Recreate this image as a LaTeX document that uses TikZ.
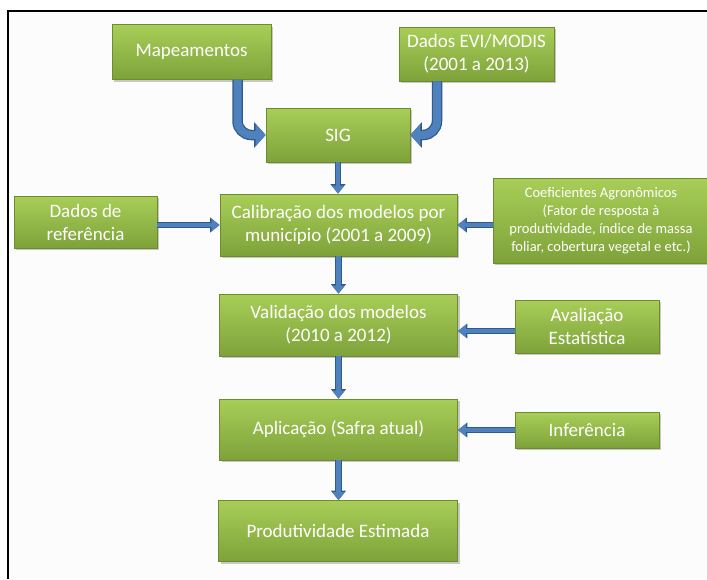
\documentclass[tikz,border=0pt]{standalone}
\usepackage{fontspec}
\setmainfont{Carlito}
\usetikzlibrary{arrows.meta,shadows}
\definecolor{gtop}{HTML}{A8CE58}
\definecolor{gbot}{HTML}{7EA23A}
\definecolor{boxedge}{HTML}{6C8C2E}
\definecolor{arrblue}{HTML}{4F81BD}
\definecolor{arrdark}{HTML}{2F5A8E}
\definecolor{bg}{HTML}{FCFCFC}
\tikzset{
  box/.style={draw=boxedge, line width=0.8pt, top color=gtop, bottom color=gbot,
    text=white, align=center, inner sep=2pt, font=\fontsize{19}{23}\selectfont,
    drop shadow={shadow xshift=2pt, shadow yshift=-2pt, opacity=0.35, fill=black!60}},
  thinarr/.style={arrblue, line width=4.5pt, -{Triangle[width=12pt,length=8pt]},
    preaction={draw=arrdark, line width=6.5pt, -{Triangle[width=14.5pt,length=9.5pt]}}},
  fatarr/.style={arrblue, line width=8pt, rounded corners=14pt, -{Triangle[width=22pt,length=10pt]},
    preaction={draw=arrdark, line width=10.5pt, -{Triangle[width=25pt,length=11.5pt]}}}
}
\begin{document}
\begin{tikzpicture}[x=1pt,y=-1pt]
\useasboundingbox (0,0) rectangle (707,579);
\fill[bg] (8,10.5) rectangle (707,579);

\node[box, minimum width=159pt, minimum height=55pt] (map) at (191.5,52) {Mapeamentos};
\node[box, minimum width=155pt, minimum height=54pt] (evi) at (476.5,54) {Dados EVI/MODIS\\(2001 a 2013)};
\node[box, minimum width=144pt, minimum height=54pt] (sig) at (338,135) {SIG};
\node[box, minimum width=237pt, minimum height=62pt] (cal) at (338.5,225) {Calibração dos modelos por\\município (2001 a 2009)};
\node[box, minimum width=143pt, minimum height=52pt] (ref) at (85.5,222) {Dados de\\referência};
\node[box, minimum width=216pt, minimum height=85pt, font=\fontsize{14.5}{18}\selectfont] (coef) at (601,220.5) {Coeficientes Agronômicos\\(Fator de resposta à\\produtividade, índice de massa\\foliar, cobertura vegetal e etc.)};
\node[box, minimum width=238pt, minimum height=62pt] (val) at (338.5,325) {Validação dos modelos\\(2010 a 2012)};
\node[box, minimum width=144pt, minimum height=53pt] (aval) at (587,326.5) {Avaliação\\Estatística};
\node[box, minimum width=238pt, minimum height=61pt] (apl) at (338.5,429.5) {Aplicação (Safra atual)};
\node[box, minimum width=144pt, minimum height=36pt] (inf) at (587,430) {Inferência};
\node[box, minimum width=239pt, minimum height=61pt] (prod) at (338,531) {Produtividade Estimada};

\coordinate (m0) at ([xshift=46pt]map.south);
\coordinate (e0) at ([xshift=-39.5pt]evi.south);
\draw[fatarr] (m0) |- (sig.west);
\draw[fatarr] (e0) |- (sig.east);

\draw[thinarr] (sig.south) -- (sig.south |- cal.north);
\draw[thinarr] (ref.east |- cal.west) -- (cal.west);
\draw[thinarr] (coef.west |- cal.east) -- (cal.east);
\draw[thinarr] (cal.south) -- (val.north);
\coordinate (a1) at ([yshift=-4.5pt]aval.west);
\draw[thinarr] (a1) -- (a1 -| val.east);
\draw[thinarr] (val.south) -- (apl.north);
\draw[thinarr] (inf.west) -- (inf.west -| apl.east);
\draw[thinarr] (apl.south) -- (apl.south |- prod.north);

\draw[line width=2pt] (8,579) -- (8,10.5) -- (707,10.5);
\end{tikzpicture}
\end{document}
